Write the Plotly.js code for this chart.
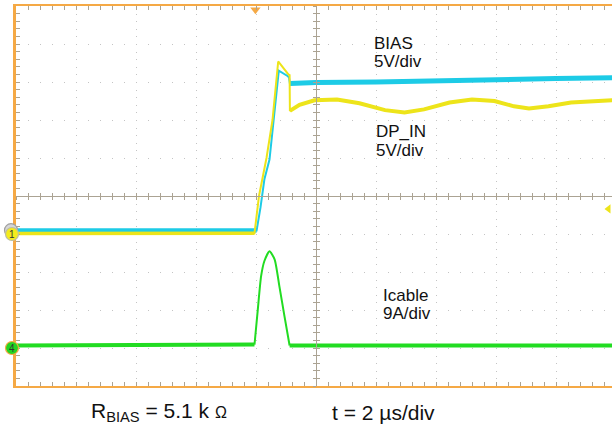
<!DOCTYPE html>
<html>
<head>
<meta charset="utf-8">
<script src="https://cdn.plot.ly/plotly-3.0.1.min.js"></script>
<style>html,body{margin:0;padding:0;background:#fff;}#chart{width:612px;height:427px;}</style>
</head>
<body>
<div id="chart"></div>
<script>
// time in microseconds (2 us/div), left edge = 0
const biasT = [0, 4, 8.02, 8.15, 8.28, 8.45, 8.58, 8.72, 8.76, 9.05, 9.1, 9.13, 10, 12, 14, 16, 18, 19.87];
const biasV = [0.45, 0.45, 0.45, 3.5, 7.2, 9.8, 14.8, 19.9, 21.5, 20.8, 20.6, 19.8, 19.95, 20.0, 20.2, 20.3, 20.45, 20.55];

const dpT = [0, 4, 7.95, 8.1, 8.35, 8.55, 8.74, 9.08, 9.12, 9.13, 9.45, 9.95, 10.7, 11.45, 12.3, 12.95, 13.6, 14.45, 15.2, 15.95, 16.6, 17.1, 17.75, 18.5, 19.87];
const dpV = [0.05, 0.05, 0.1, 5.0, 10.0, 15.0, 22.7, 21.0, 20.9, 16.2, 17.0, 17.6, 17.7, 17.2, 16.3, 16.0, 16.4, 17.3, 17.7, 17.5, 16.8, 16.5, 16.8, 17.3, 17.6];

const icT = [0, 4, 7.95, 8.06, 8.17, 8.28, 8.45, 8.62, 8.78, 8.95, 9.12, 12, 16, 19.87];
const icA = [0.6, 0.6, 0.8, 9.1, 17.0, 20.6, 22.9, 21.0, 14.6, 7.5, 0.6, 0.6, 0.6, 0.6];

const trigT = [7.98];
const trigLevelV = [3.3];

const labelTexts = ["BIAS", "5V/div", "DP_IN", "5V/div", "Icable", "9A/div"];

const ORANGE = '#F5A945';
const GRIDC = '#C4C4C4';
const CROSS = '#ABA393';
const CYAN = '#1DCBE6';
const YELLOW = '#EDE41A';
const GREEN = '#22DC22';

const XR = [0, 596/30];

function seg(xs, ys, a, b, yref, color, width, shape) {
  return {x: xs.slice(a, b), y: ys.slice(a, b), xaxis:'x', yaxis:yref, mode:'lines',
    line:{color:color, width:width, shape:shape || 'linear', smoothing:0.6}, hoverinfo:'skip'};
}

const traces = [
  // BIAS: thin full trace + noisy-band flat parts
  seg(biasT, biasV, 0, biasT.length, 'y2', CYAN, 2),
  seg(biasT, biasV, 0, 3, 'y2', CYAN, 4.5),
  seg(biasT, biasV, 11, biasT.length, 'y2', CYAN, 5),
  // DP_IN
  seg(dpT, dpV, 0, dpT.length, 'y2', YELLOW, 2),
  seg(dpT, dpV, 0, 3, 'y2', YELLOW, 3.5),
  seg(dpT, dpV, 9, dpT.length, 'y2', YELLOW, 4),
  // Icable: smooth pulse + noisy-band baseline
  seg(icT, icA, 2, 11, 'y3', GREEN, 2, 'spline'),
  seg(icT, icA, 0, 3, 'y3', GREEN, 4),
  seg(icT, icA, 10, icT.length, 'y3', GREEN, 4),
  // trigger position marker (top)
  {x: trigT, y:[4.9], xaxis:'x', yaxis:'y', mode:'markers', cliponaxis:false,
   marker:{symbol:'triangle-down', size:9, color:ORANGE}, hoverinfo:'skip'},
  // trigger level marker (right)
  {x:[19.75], y: trigLevelV, xaxis:'x', yaxis:'y2', mode:'markers', cliponaxis:false,
   marker:{symbol:'triangle-left', size:8, color:YELLOW}, hoverinfo:'skip'}
];

const crossX = {overlaying:'x', anchor:'free', position:0.5, range:XR, showline:true, linecolor:CROSS, linewidth:1,
  showgrid:false, zeroline:false, showticklabels:false, dtick:2, tick0:0, ticklen:3, tickcolor:CROSS,
  minor:{dtick:0.4, tick0:0, ticklen:3, tickcolor:CROSS}};
const crossY = {overlaying:'y', anchor:'free', position:10/XR[1], range:[-5,5], showline:true, linecolor:CROSS, linewidth:1,
  showgrid:false, zeroline:false, showticklabels:false, dtick:1, tick0:0, ticklen:3, tickcolor:CROSS,
  minor:{dtick:0.2, tick0:0, ticklen:3, tickcolor:CROSS}};

function ann(text, x, y, size) {
  return {text:text, x:x, y:y, xref:'x', yref:'y', xanchor:'left', yanchor:'middle', showarrow:false,
    font:{family:'Liberation Sans, Arial, sans-serif', size:size, color:'#111'}};
}
function chCircle(yref, fill, edge, dx, dy) {
  return {type:'circle', xref:'paper', yref:yref, xsizemode:'pixel', ysizemode:'pixel', xanchor:0, yanchor:dy,
     x0:-10.5 + dx, x1:2.5 + dx, y0:-6.5, y1:6.5, fillcolor:fill, line:{color:edge, width:1.2}, layer:'above'};
}

const shapes = [
  chCircle('y2', '#D6D6D6', '#A0A0A0', -1, 0.5),
  chCircle('y2', '#F4EC1C', '#BDBDA0', 0, 0),
  chCircle('y3', '#22D422', ORANGE, 0, 0)
];

const layout = {
  width:612, height:427,
  margin:{l:16, r:0, t:6, b:41, pad:0},
  paper_bgcolor:'#fff', plot_bgcolor:'#fff',
  showlegend:false,
  xaxis:{range:XR, dtick:2, tick0:0, showgrid:true, gridcolor:GRIDC, griddash:'1px,6.6px', gridwidth:1,
    zeroline:false, showticklabels:false, showline:true, linecolor:ORANGE, linewidth:2, mirror:'ticks',
    ticks:'inside', ticklen:4, tickcolor:CROSS,
    minor:{dtick:0.4, tick0:0, ticks:'inside', ticklen:4, tickcolor:CROSS, showgrid:false}},
  yaxis:{range:[-5,5], dtick:1, tick0:0, showgrid:true, gridcolor:GRIDC, griddash:'1px,11px', gridwidth:1,
    zeroline:false, showticklabels:false, showline:true, linecolor:ORANGE, linewidth:3,
    ticks:'inside', ticklen:4, tickcolor:CROSS,
    minor:{dtick:0.2, tick0:0, ticks:'inside', ticklen:4, tickcolor:CROSS, showgrid:false}},
  yaxis2:{overlaying:'y', range:[-20,30], visible:false},
  yaxis3:{overlaying:'y', range:[-9,81], visible:false},
  xaxis2:Object.assign({}, crossX, {ticks:'outside', minor:Object.assign({}, crossX.minor, {ticks:'outside'})}),
  xaxis3:Object.assign({}, crossX, {ticks:'inside', minor:Object.assign({}, crossX.minor, {ticks:'inside'})}),
  yaxis4:Object.assign({}, crossY, {ticks:'outside', minor:Object.assign({}, crossY.minor, {ticks:'outside'})}),
  yaxis5:Object.assign({}, crossY, {ticks:'inside', minor:Object.assign({}, crossY.minor, {ticks:'inside'})}),
  shapes: shapes,
  annotations:[
    ann(labelTexts[0], 11.85, 4.01, 17),
    ann(labelTexts[1], 11.85, 3.54, 17),
    ann(labelTexts[2], 11.92, 1.69, 17),
    ann(labelTexts[3], 11.92, 1.20, 17),
    ann(labelTexts[4], 12.18, -2.62, 17),
    ann(labelTexts[5], 12.18, -3.09, 17),
    {text:'1', xref:'paper', yref:'y2', x:0, y:0, xshift:-4, xanchor:'center', yanchor:'middle', showarrow:false,
      font:{family:'Liberation Sans, Arial, sans-serif', size:10, color:'#333'}},
    {text:'4', xref:'paper', yref:'y3', x:0, y:0, xshift:-4, xanchor:'center', yanchor:'middle', showarrow:false,
      font:{family:'Liberation Sans, Arial, sans-serif', size:10, color:'#333'}},
    {text:'R<sub>BIAS</sub> = 5.1 k <span style="font-size:16px">Ω</span>', x:(89-16)/596, y:(386-412)/380, xref:'paper', yref:'paper',
      xanchor:'left', yanchor:'middle', showarrow:false, font:{family:'Liberation Sans, Arial, sans-serif', size:21, color:'#111'}},
    {text:'t = 2 µs/div', x:(330-16)/596, y:(386-412)/380, xref:'paper', yref:'paper',
      xanchor:'left', yanchor:'middle', showarrow:false, font:{family:'Liberation Sans, Arial, sans-serif', size:21, color:'#111'}}
  ]
};

// empty bindings so the crosshair overlay axes render
traces.push({x:[null], y:[null], xaxis:'x2', yaxis:'y', mode:'lines', hoverinfo:'skip'});
traces.push({x:[null], y:[null], xaxis:'x3', yaxis:'y', mode:'lines', hoverinfo:'skip'});
traces.push({x:[null], y:[null], xaxis:'x', yaxis:'y4', mode:'lines', hoverinfo:'skip'});
traces.push({x:[null], y:[null], xaxis:'x', yaxis:'y5', mode:'lines', hoverinfo:'skip'});

Plotly.newPlot('chart', traces, layout, {staticPlot:true, displayModeBar:false});
</script>
</body>
</html>
